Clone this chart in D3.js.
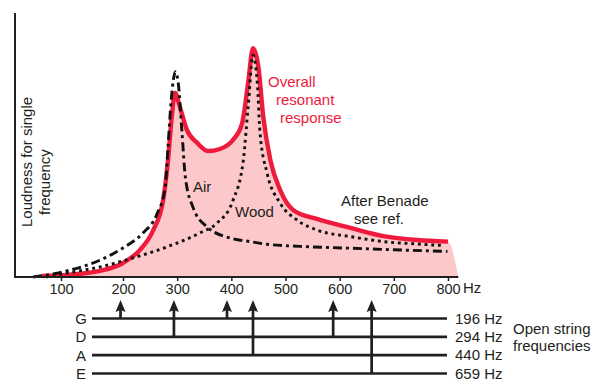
<!DOCTYPE html>
<html>
<head>
<meta charset="utf-8">
<script src="https://cdn.jsdelivr.net/npm/d3@7"></script>
<style>
body { margin: 0; background: #fff; }
text { font-family: "Liberation Sans", Arial, Helvetica, sans-serif; fill: #231f20; }
</style>
</head>
<body>
<svg id="chart" width="597" height="388"></svg>
<script>
// values (frequency in Hz, loudness in arbitrary 0-100 units)
var overallFreq = [69, 110, 163, 200, 231, 256, 274, 283, 290, 296, 305, 318, 337, 357, 379, 403, 420, 431, 440, 450, 459, 472, 490, 514, 558, 620, 681, 743, 800];
var overallLoud = [0.4, 0.8, 2.3, 5.3, 10.2, 17.8, 29, 44, 60.6, 69.7, 64.4, 55.7, 50.8, 47.7, 48.5, 51.9, 58.3, 73.5, 86.7, 79.5, 60.6, 44.3, 33, 25.4, 22, 18.6, 15.5, 14, 13.4];

var airFreq = [55, 109, 163, 200, 237, 263, 278, 283, 289, 297, 302, 309, 315, 329, 355, 403, 435, 466, 527, 620, 700, 799];
var airLoud = [0, 2.3, 6.4, 11, 16.7, 24, 34, 49, 67, 77.8, 73.5, 54.5, 38, 26.5, 19, 14.5, 13.4, 12.4, 11.6, 10.9, 10.3, 9.7];

var woodFreq = [76, 109, 163, 218, 281, 342, 374, 403, 422, 431, 440, 448, 453, 466, 490, 521, 558, 620, 681, 743, 792];
var woodLoud = [0, 1.5, 3.8, 7.2, 11.4, 16.7, 20.5, 29, 44, 64.4, 84, 73.5, 54.5, 39.4, 28, 21.6, 17.8, 15.3, 13.4, 12.5, 11.9];

var fillEdgeFreq = 819;
var tickValues = [100, 200, 300, 400, 500, 600, 700, 800];

var stringNames = ["G", "D", "A", "E"];
var stringFreqs = [196, 294, 440, 659];
var harmonicFreqs = [196, 294, 392, 440, 588, 659];
var harmonicFrom = ["G", "D", "G", "A", "D", "E"];

var red = "#ee1b3d", pink = "#fdc8ca", ink = "#231f20";

var svg = d3.select("#chart");

// the drawing squeezes the 100 Hz label closer, so two linear pieces
var x = d3.scaleLinear().domain([100, 200, 800]).range([61, 123, 448]);
var y = d3.scaleLinear().domain([0, 100]).range([277, 13]);

function pairs(fs, vs) {
	return fs.map(function(f, i) { return [f, vs[i]]; });
}

var overall = pairs(overallFreq, overallLoud),
	air = pairs(airFreq, airLoud),
	wood = pairs(woodFreq, woodLoud);

var line = d3.line()
	.x(function(d) { return x(d[0]); })
	.y(function(d) { return y(d[1]); })
	.curve(d3.curveMonotoneX);

/* pink area under the overall response */
var area = d3.area()
	.x(function(d) { return x(d[0]); })
	.y0(y(0))
	.y1(function(d) { return y(d[1]); })
	.curve(d3.curveMonotoneX);
svg.append("path")
	.attr("d", area(overall.concat([[fillEdgeFreq, 0]])))
	.attr("fill", pink);

svg.append("path")
	.attr("d", line(overall))
	.attr("fill", "none")
	.attr("stroke", red)
	.attr("stroke-width", 4.4);

svg.append("path")
	.attr("d", line(air))
	.attr("fill", "none")
	.attr("stroke", "#111")
	.attr("stroke-width", 2.9)
	.attr("stroke-dasharray", "9 4 3 4");

svg.append("path")
	.attr("d", line(wood))
	.attr("fill", "none")
	.attr("stroke", "#111")
	.attr("stroke-width", 2.9)
	.attr("stroke-dasharray", "2.9 3.8");

/* axes */
svg.append("line")
	.attr("x1", 15).attr("x2", 15).attr("y1", 13).attr("y2", y(0) + 1)
	.attr("stroke", ink).attr("stroke-width", 2);
svg.append("line")
	.attr("x1", 14).attr("x2", x(fillEdgeFreq)).attr("y1", y(0)).attr("y2", y(0))
	.attr("stroke", ink).attr("stroke-width", 2);

var xAxis = svg.append("g")
	.attr("transform", "translate(0," + y(0) + ")")
	.call(d3.axisBottom(x).tickValues(tickValues).tickSize(4).tickPadding(3));
xAxis.select(".domain").remove();
xAxis.selectAll(".tick line").attr("stroke", ink).attr("stroke-width", 1.5);
xAxis.selectAll(".tick text")
	.style("font-family", '"Liberation Sans", Arial, sans-serif')
	.style("font-size", "14.5px")
	.attr("fill", ink);

svg.append("text").attr("x", 463).attr("y", 293).style("font-size", "15px").text("Hz");

/* y label */
svg.append("text")
	.attr("transform", "translate(32,227) rotate(-90)")
	.style("font-size", "15px")
	.text("Loudness for single");
svg.append("text")
	.attr("transform", "translate(49.5,215) rotate(-90)")
	.style("font-size", "15px")
	.text("frequency");

/* annotations */
var notes = [
	{t: "Overall", x: 268, y: 87, c: red},
	{t: "resonant", x: 276, y: 105, c: red},
	{t: "response", x: 280, y: 123, c: red},
	{t: "Air", x: 193, y: 192, c: ink},
	{t: "Wood", x: 235, y: 217, c: ink},
	{t: "After Benade", x: 341, y: 206, c: ink},
	{t: "see ref.", x: 354, y: 223.5, c: ink}
];
svg.selectAll("text.note")
	.data(notes)
	.enter().append("text")
	.attr("class", "note")
	.attr("x", function(d) { return d.x; })
	.attr("y", function(d) { return d.y; })
	.style("font-size", "15px")
	.style("fill", function(d) { return d.c; })
	.text(function(d) { return d.t; });

/* open strings and their harmonics */
var sy = d3.scalePoint().domain(stringNames).range([318.5, 373.5]);
var strLeft = 92, strRight = 447, arrowTip = 300;

var strings = svg.append("g").selectAll("g")
	.data(stringNames)
	.enter().append("g");
strings.append("line")
	.attr("x1", strLeft).attr("x2", strRight)
	.attr("y1", function(d) { return sy(d); })
	.attr("y2", function(d) { return sy(d); })
	.attr("stroke", ink).attr("stroke-width", 2.7);
strings.append("text")
	.attr("x", 81).attr("y", function(d) { return sy(d) + 5.5; })
	.attr("text-anchor", "middle")
	.style("font-size", "15px")
	.text(function(d) { return d; });
strings.append("text")
	.attr("x", 455).attr("y", function(d) { return sy(d) + 5; })
	.style("font-size", "15px")
	.text(function(d, i) { return stringFreqs[i] + " Hz"; });

var arrows = svg.append("g").selectAll("g")
	.data(harmonicFreqs)
	.enter().append("g");
arrows.append("line")
	.attr("x1", function(d) { return x(d); })
	.attr("x2", function(d) { return x(d); })
	.attr("y1", function(d, i) { return sy(harmonicFrom[i]); })
	.attr("y2", arrowTip + 8)
	.attr("stroke", ink).attr("stroke-width", 2.7);
arrows.append("path")
	.attr("d", function(d) {
		var cx = x(d);
		return "M" + cx + "," + arrowTip + "L" + (cx + 5) + "," + (arrowTip + 12) +
			"L" + cx + "," + (arrowTip + 10) + "L" + (cx - 5) + "," + (arrowTip + 12) + "Z";
	})
	.attr("fill", ink);

svg.append("text").attr("x", 513).attr("y", 334).style("font-size", "15px").text("Open string");
svg.append("text").attr("x", 513).attr("y", 351).style("font-size", "15px").text("frequencies");
</script>
</body>
</html>
